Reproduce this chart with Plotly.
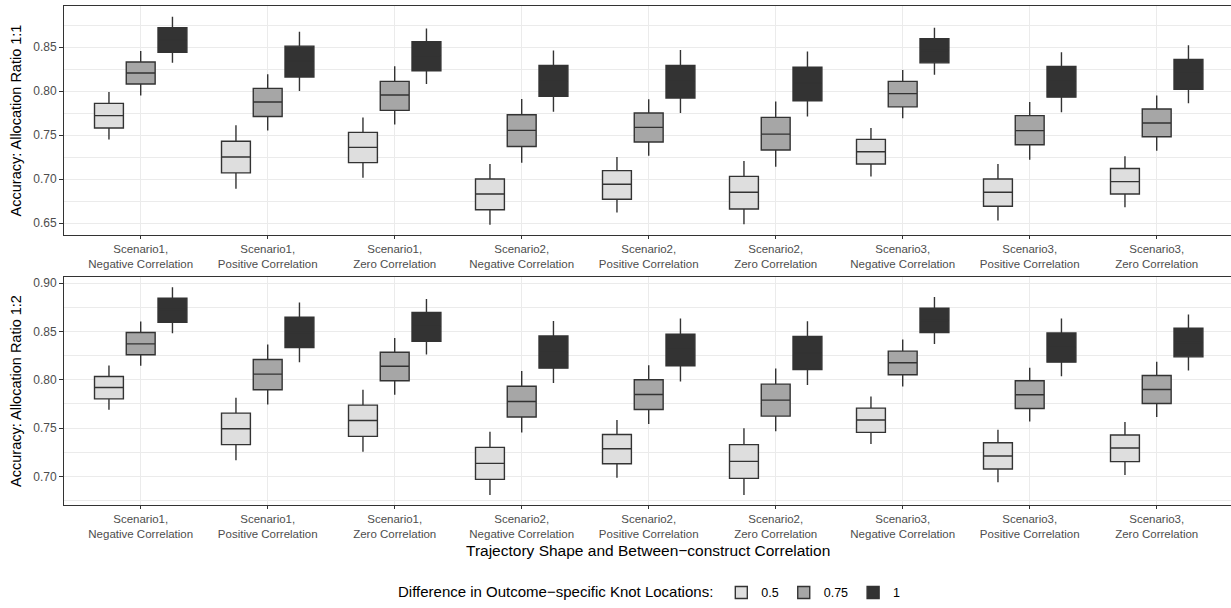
import plotly.graph_objects as go

categories = [
    "Scenario1,<br>Negative Correlation", "Scenario1,<br>Positive Correlation", "Scenario1,<br>Zero Correlation",
    "Scenario2,<br>Negative Correlation", "Scenario2,<br>Positive Correlation", "Scenario2,<br>Zero Correlation",
    "Scenario3,<br>Negative Correlation", "Scenario3,<br>Positive Correlation", "Scenario3,<br>Zero Correlation",
]
knot_levels = ["0.5", "0.75", "1"]

# Allocation ratio 1:1 (top panel)
r11_k05_lo = [0.745, 0.689, 0.7015, 0.648, 0.662, 0.6485, 0.703, 0.653, 0.668]
r11_k05_q1 = [0.758, 0.707, 0.7186, 0.665, 0.677, 0.666, 0.717, 0.669, 0.683]
r11_k05_md = [0.772, 0.725, 0.736, 0.683, 0.694, 0.685, 0.731, 0.685, 0.697]
r11_k05_q3 = [0.786, 0.743, 0.753, 0.700, 0.7095, 0.703, 0.745, 0.700, 0.712]
r11_k05_hi = [0.799, 0.761, 0.770, 0.717, 0.725, 0.7205, 0.758, 0.717, 0.726]

r11_k075_lo = [0.795, 0.755, 0.762, 0.7186, 0.7265, 0.714, 0.769, 0.722, 0.732]
r11_k075_q1 = [0.808, 0.771, 0.778, 0.737, 0.742, 0.733, 0.782, 0.739, 0.748]
r11_k075_md = [0.8205, 0.7875, 0.7955, 0.7553, 0.7587, 0.751, 0.797, 0.755, 0.7636]
r11_k075_q3 = [0.833, 0.803, 0.811, 0.773, 0.775, 0.770, 0.811, 0.772, 0.7795]
r11_k075_hi = [0.8455, 0.819, 0.828, 0.791, 0.7905, 0.788, 0.824, 0.7875, 0.795]

r11_k1_lo = [0.832, 0.800, 0.808, 0.7765, 0.775, 0.771, 0.8186, 0.776, 0.786]
r11_k1_q1 = [0.844, 0.816, 0.823, 0.794, 0.792, 0.789, 0.832, 0.793, 0.802]
r11_k1_md = [0.858, 0.834, 0.840, 0.811, 0.811, 0.809, 0.846, 0.811, 0.820]
r11_k1_q3 = [0.872, 0.851, 0.856, 0.829, 0.829, 0.827, 0.8595, 0.828, 0.836]
r11_k1_hi = [0.8845, 0.8674, 0.871, 0.846, 0.8466, 0.845, 0.872, 0.844, 0.852]

# Allocation ratio 1:2 (bottom panel)
r12_k05_lo = [0.769, 0.7166, 0.7255, 0.6807, 0.6986, 0.6807, 0.7334, 0.6938, 0.7014]
r12_k05_q1 = [0.7803, 0.7328, 0.7414, 0.6969, 0.7131, 0.6979, 0.7455, 0.7076, 0.7152]
r12_k05_md = [0.7921, 0.7493, 0.7579, 0.7134, 0.7286, 0.7155, 0.7583, 0.721, 0.7293]
r12_k05_q3 = [0.8034, 0.7655, 0.7738, 0.730, 0.7434, 0.7328, 0.7707, 0.7348, 0.7428]
r12_k05_hi = [0.8148, 0.7814, 0.7897, 0.7462, 0.7583, 0.7497, 0.7828, 0.7483, 0.7562]

r12_k075_lo = [0.8145, 0.7745, 0.7845, 0.7455, 0.7541, 0.7466, 0.7931, 0.7569, 0.7614]
r12_k075_q1 = [0.8259, 0.7897, 0.799, 0.7614, 0.7693, 0.7624, 0.8052, 0.7703, 0.7755]
r12_k075_md = [0.8372, 0.8059, 0.8141, 0.7776, 0.7848, 0.779, 0.8176, 0.7845, 0.790]
r12_k075_q3 = [0.849, 0.821, 0.8286, 0.7934, 0.800, 0.7955, 0.8297, 0.799, 0.8045]
r12_k075_hi = [0.8603, 0.8366, 0.8434, 0.809, 0.8152, 0.8117, 0.8417, 0.8124, 0.8186]

r12_k1_lo = [0.8483, 0.8183, 0.8262, 0.7966, 0.7983, 0.7945, 0.8372, 0.8038, 0.8097]
r12_k1_q1 = [0.8597, 0.8334, 0.840, 0.8121, 0.8145, 0.8107, 0.849, 0.8183, 0.8238]
r12_k1_md = [0.8728, 0.849, 0.8555, 0.8286, 0.8317, 0.8279, 0.8614, 0.8338, 0.8386]
r12_k1_q3 = [0.8845, 0.8648, 0.8697, 0.8455, 0.8472, 0.8448, 0.8741, 0.8486, 0.8534]
r12_k1_hi = [0.8959, 0.880, 0.8838, 0.861, 0.8634, 0.8607, 0.8859, 0.8634, 0.8676]

fills = ["#DEDEDE", "#A6A6A6", "#333333"]
FONT = "Liberation Sans, Arial, Helvetica, sans-serif"

top_sets = [
    (r11_k05_lo, r11_k05_q1, r11_k05_md, r11_k05_q3, r11_k05_hi),
    (r11_k075_lo, r11_k075_q1, r11_k075_md, r11_k075_q3, r11_k075_hi),
    (r11_k1_lo, r11_k1_q1, r11_k1_md, r11_k1_q3, r11_k1_hi),
]
bot_sets = [
    (r12_k05_lo, r12_k05_q1, r12_k05_md, r12_k05_q3, r12_k05_hi),
    (r12_k075_lo, r12_k075_q1, r12_k075_md, r12_k075_q3, r12_k075_hi),
    (r12_k1_lo, r12_k1_q1, r12_k1_md, r12_k1_q3, r12_k1_hi),
]

fig = go.Figure()
for sets, xa, ya, show in [(top_sets, "x", "y", True), (bot_sets, "x2", "y2", False)]:
    for i, (lo, q1, md, q3, hi) in enumerate(sets):
        fig.add_trace(go.Box(
            x=categories, lowerfence=lo, q1=q1, median=md, q3=q3, upperfence=hi,
            name=knot_levels[i], legendgroup=knot_levels[i], showlegend=show,
            fillcolor=fills[i], line=dict(color="#333333", width=1.4),
            whiskerwidth=0, boxpoints=False, xaxis=xa, yaxis=ya,
            offsetgroup=knot_levels[i],
        ))

xcommon = dict(
    type="category", categoryorder="array", categoryarray=categories,
    range=[-0.604, 8.585], showgrid=True, gridcolor="#EBEBEB", gridwidth=1,
    showline=True, linecolor="#333333", linewidth=1, mirror=True,
    ticks="outside", ticklen=3, tickcolor="#333333", tickwidth=1,
    tickfont=dict(family=FONT, size=11.5, color="#4D4D4D"), zeroline=False,
    automargin=False,
)
ycommon = dict(
    showgrid=True, gridcolor="#EBEBEB", gridwidth=1, dtick=0.05, tick0=0,
    tickformat=".2f", zeroline=False,
    minor=dict(dtick=0.025, tick0=0, showgrid=True, gridcolor="#EBEBEB", gridwidth=0.6, ticks=""),
    showline=True, linecolor="#333333", linewidth=1, mirror=True,
    ticks="outside", ticklen=4, tickcolor="#333333", tickwidth=1,
    tickfont=dict(family=FONT, size=12, color="#4D4D4D"),
    automargin=False,
)

fig.update_layout(
    width=1231, height=608,
    margin=dict(l=64, r=0, t=6, b=103, autoexpand=False),
    paper_bgcolor="white", plot_bgcolor="white",
    boxmode="group", boxgap=0.25, boxgroupgap=0.09,
    font=dict(family=FONT, color="black"),
    xaxis=dict(xcommon, domain=[0, 1], anchor="y"),
    xaxis2=dict(xcommon, domain=[0, 1], anchor="y2"),
    yaxis=dict(ycommon, domain=[0.5411, 1.0], range=[0.6364, 0.8966], anchor="x",
               title=dict(text="Accuracy: Allocation Ratio 1:1", font=dict(size=14.5, color="black"), standoff=8)),
    yaxis2=dict(ycommon, domain=[0.0, 0.4569], range=[0.6703, 0.9065], anchor="x2",
                title=dict(text="Accuracy: Allocation Ratio 1:2", font=dict(size=14.5, color="black"), standoff=8)),
    legend=dict(
        orientation="h", x=0.503, xanchor="center", y=-0.176, yanchor="middle",
        title=dict(text="Difference in Outcome\u2212specific Knot Locations:", side="left",
                   font=dict(size=15, color="black")),
        font=dict(size=12.5, color="black"), itemwidth=30, tracegroupgap=0,
    ),
    annotations=[dict(
        text="Trajectory Shape and Between\u2212construct Correlation",
        xref="paper", yref="paper", x=0.5, y=-0.092, xanchor="center", yanchor="middle",
        showarrow=False, font=dict(size=15.5, color="black"),
    )],
)

fig.write_html(
    "out.html",
    config={"displayModeBar": False},
    post_script="document.body.style.margin='0';document.body.style.overflow='hidden';",
)
